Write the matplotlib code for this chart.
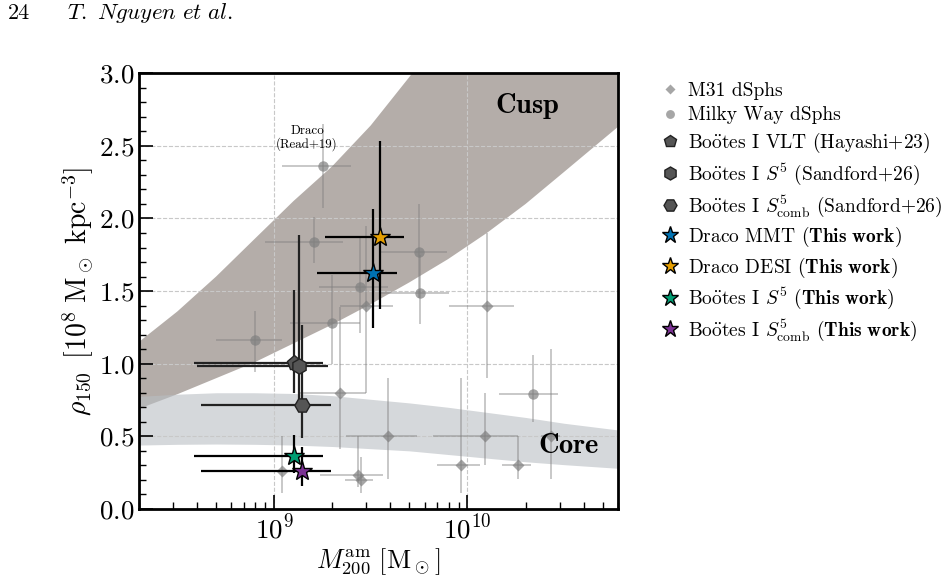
import numpy as np
import matplotlib
matplotlib.use("Agg")
import matplotlib.pyplot as plt

plt.rcParams["font.family"] = "cmr10"
plt.rcParams["mathtext.fontset"] = "cm"
plt.rcParams["axes.formatter.use_mathtext"] = True
plt.rcParams["axes.unicode_minus"] = False

# --- Baender (Cusp / Core) ---
cusp_x = [2.0e8, 3.16e8, 5.01e8, 7.94e8, 1.26e9, 2.0e9, 3.16e9, 5.19e9, 1.26e10, 6.0e10]
cusp_hi = [1.15, 1.36, 1.60, 1.86, 2.12, 2.36, 2.64, 3.0, 3.7, 4.9]
cusp_lo_x = [2.0e8, 3.16e8, 5.01e8, 7.94e8, 1.26e9, 2.0e9, 3.16e9, 5.01e9, 7.94e9,
             1.26e10, 2.0e10, 3.16e10, 6.0e10]
cusp_lo = [0.69, 0.79, 0.90, 1.01, 1.14, 1.27, 1.41, 1.56, 1.72, 1.90, 2.10, 2.32, 2.63]

core_x = [2.0e8, 3.16e8, 5.01e8, 7.94e8, 1.26e9, 2.0e9, 3.16e9, 5.01e9, 7.94e9,
          1.26e10, 2.0e10, 3.16e10, 6.0e10]
core_hi = [0.775, 0.79, 0.80, 0.80, 0.795, 0.78, 0.755, 0.73, 0.70, 0.665, 0.63, 0.59, 0.544]
core_lo = [0.44, 0.445, 0.447, 0.445, 0.44, 0.43, 0.415, 0.40, 0.375, 0.35, 0.325, 0.305, 0.28]

# --- Milky Way dSphs (Kreise) ---
mw_x = [1.80e9, 1.60e9, 5.6e9, 5.7e9, 2.79e9, 1.99e9, 7.98e8, 2.19e10]
mw_xlo = [1.10e9, 8.97e8, 3.54e9, 3.54e9, 1.71e9, 1.21e9, 5.0e8, 1.45e10]
mw_xhi = [2.50e9, 2.28e9, 7.8e9, 8.0e9, 3.9e9, 2.79e9, 1.10e9, 2.93e10]
mw_y = [2.36, 1.84, 1.77, 1.49, 1.53, 1.28, 1.16, 0.79]
mw_ylo = [2.07, 1.69, 1.45, 1.27, 1.21, 1.00, 0.945, 0.60]
mw_yhi = [2.65, 2.01, 2.10, 1.75, 1.87, 1.61, 1.36, 1.06]

# --- M31 dSphs (Rauten) ---
m31_x = [3.0e9, 2.2e9, 1.26e10, 3.9e9, 1.23e10, 9.3e9, 1.82e10, 2.7e10, 1.10e9, 2.72e9, 2.81e9]
m31_xlo = [2.2e9, 1.36e9, 8.0e9, 2.35e9, 6.6e9, 7.0e9, 1.51e10, 2.4e10, 6.0e8, 1.73e9, 2.33e9]
m31_xhi = [4.1e9, 2.98e9, 1.74e10, 5.5e9, 1.82e10, 1.16e10, 2.14e10, 3.0e10, 1.5e9, 3.68e9, 3.24e9]
m31_y = [1.40, 0.80, 1.40, 0.50, 0.50, 0.30, 0.30, 0.50, 0.264, 0.234, 0.20]
m31_ylo = [0.80, 0.41, 0.904, 0.204, 0.30, 0.108, 0.206, 0.206, 0.112, 0.153, 0.11]
m31_yhi = [1.95, 1.39, 1.90, 0.904, 0.796, 0.904, 0.50, 1.10, 0.50, 0.50, 0.36]

# --- Bootes I Literatur ---
vlt = dict(x=1.27e9, xlo=3.83e8, xhi=1.80e9, y=1.003, ylo=0.80, yhi=1.507)
s5_sand = dict(x=1.34e9, xlo=4.0e8, xhi=1.90e9, y=0.986, ylo=0.76, yhi=1.886)
s5c_sand = dict(x=1.40e9, xlo=4.19e8, xhi=1.97e9, y=0.714, ylo=0.487, yhi=1.266)

# --- Diese Arbeit ---
draco_mmt = dict(x=3.24e9, xlo=1.67e9, xhi=4.33e9, y=1.622, ylo=1.243, yhi=2.065)
draco_desi = dict(x=3.54e9, xlo=1.84e9, xhi=4.72e9, y=1.874, ylo=1.38, yhi=2.53)
boo_s5 = dict(x=1.27e9, xlo=3.83e8, xhi=1.80e9, y=0.365, ylo=0.25, yhi=0.509)
boo_s5c = dict(x=1.40e9, xlo=4.2e8, xhi=1.97e9, y=0.262, ylo=0.158, yhi=0.429)


def asym(v, lo, hi):
    v, lo, hi = np.asarray(v), np.asarray(lo), np.asarray(hi)
    return np.array([v - lo, hi - v])


fig = plt.figure(figsize=(9.52, 5.81), dpi=100)
ax = fig.add_axes([0.146, 0.124, 0.503, 0.750])

ax.fill_between(cusp_lo_x, cusp_lo, np.interp(np.log10(cusp_lo_x), np.log10(cusp_x), cusp_hi),
                color="#b4ada9", lw=0, zorder=1)
ax.fill_between(core_x, core_lo, core_hi, color="#b9bec3", alpha=0.6, lw=0, zorder=1.1)

# graue Literaturpunkte
ax.errorbar(mw_x, mw_y, xerr=asym(mw_x, mw_xlo, mw_xhi), yerr=asym(mw_y, mw_ylo, mw_yhi),
            fmt="none", ecolor="gray", elinewidth=1.1, alpha=0.55, zorder=2)
ax.errorbar(m31_x, m31_y, xerr=asym(m31_x, m31_xlo, m31_xhi), yerr=asym(m31_y, m31_ylo, m31_yhi),
            fmt="none", ecolor="gray", elinewidth=1.1, alpha=0.55, zorder=2)
ax.plot(m31_x, m31_y, "D", color="gray", ms=6.5, mec="none", alpha=0.7, ls="none",
        label="M31 dSphs", zorder=3)
ax.plot(mw_x, mw_y, "o", color="gray", ms=7.5, mec="none", alpha=0.7, ls="none",
        label="Milky Way dSphs", zorder=3)

boo = r"Bo$\mathrm{\ddot{o}}$tes I"
lit = [
    (vlt, "p", boo + " VLT (Hayashi+23)"),
    (s5_sand, "h", boo + r" $S^5$ (Sandford+26)"),
    (s5c_sand, "H", boo + r" $S^5_{\rm comb}$ (Sandford+26)"),
]
for d, m, lab in lit:
    ax.errorbar(d["x"], d["y"], xerr=asym([d["x"]], [d["xlo"]], [d["xhi"]]),
                yerr=asym([d["y"]], [d["ylo"]], [d["yhi"]]),
                fmt="none", ecolor="#222222", elinewidth=1.6, zorder=4)
    ax.plot(d["x"], d["y"], m, color="#555555", mec="#222222", mew=1.0, ms=11,
            ls="none", label=lab, zorder=5)

tw = r" $\mathbf{(This\ work)}$"
ours = [
    (draco_mmt, "#0072B2", "Draco MMT" + tw),
    (draco_desi, "#E69F00", "Draco DESI" + tw),
    (boo_s5, "#009E73", boo + r" $S^5$" + tw),
    (boo_s5c, "#7B3294", boo + r" $S^5_{\rm comb}$" + tw),
]
for d, c, lab in ours:
    ax.errorbar(d["x"], d["y"], xerr=asym([d["x"]], [d["xlo"]], [d["xhi"]]),
                yerr=asym([d["y"]], [d["ylo"]], [d["yhi"]]),
                fmt="none", ecolor="black", elinewidth=1.6, zorder=6)
    ax.plot(d["x"], d["y"], "*", color=c, mec="black", mew=1.0, ms=15,
            ls="none", label=lab, zorder=7)

ax.text(1.48e9, 2.555, "Draco\n(Read+19)", ha="center", va="center", fontsize=9.3,
        linespacing=0.95, zorder=3)
ax.text(0.81, 0.924, r"$\mathbf{Cusp}$", transform=ax.transAxes, ha="center", va="center",
        fontsize=20.5)
ax.text(0.898, 0.144, r"$\mathbf{Core}$", transform=ax.transAxes, ha="center", va="center",
        fontsize=20.5)

ax.set_xscale("log")
ax.set_xlim(2e8, 6e10)
ax.set_ylim(0, 3.0)
ax.set_yticks(np.arange(0, 3.01, 0.5))
ax.set_yticks(np.arange(0, 3.01, 0.1), minor=True)
ax.grid(True, which="major", ls="--", color="#c8c8c8", lw=0.8)
ax.tick_params(which="both", direction="in", top=False, right=False, labelsize=19.5)
ax.tick_params(which="major", length=10, width=1.2)
ax.tick_params(which="minor", length=5, width=1.0)
for s in ax.spines.values():
    s.set_linewidth(2.0)

ax.set_xlabel(r"$M_{200}^{\rm am}\ [\rm M_\odot]$", fontsize=19, labelpad=2)
ax.set_ylabel(r"$\rho_{150}\ \,[10^8\ \rm M_\odot\ kpc^{-3}]$", fontsize=20, labelpad=2)

ax.legend(loc="upper left", bbox_to_anchor=(1.052, 1.02), frameon=False, fontsize=14,
          handletextpad=0.45, labelspacing=0.33, handlelength=1.0, markerscale=0.85)

fig.text(0.008, 0.978, "24", fontsize=16, va="center")
fig.text(0.0705, 0.978, r"$\mathit{T.\ Nguyen\ et\ al.}$", fontsize=16.5, va="center")

fig.savefig("out.png", dpi=100)
